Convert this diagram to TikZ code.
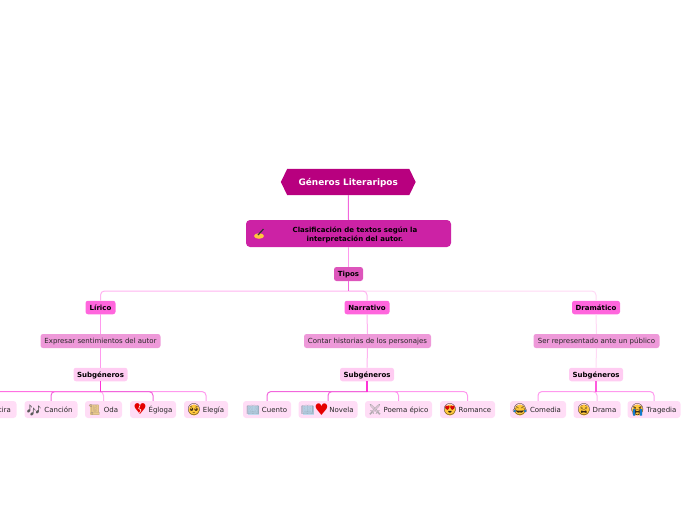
\documentclass[tikz,border=0pt]{standalone}
\usepackage{fontspec}
\usetikzlibrary{backgrounds}
\setmainfont{DejaVu Sans}
\newfontfamily\emo{Noto Emoji}
\definecolor{rootc}{HTML}{B8007F}
\definecolor{claseC}{HTML}{CC22A5}
\definecolor{tiposC}{HTML}{DD55BB}
\definecolor{tipoC}{HTML}{FF66DD}
\definecolor{descC}{HTML}{EE99D9}
\definecolor{subC}{HTML}{FFCCF2}
\definecolor{leafC}{HTML}{FFDDF6}
\definecolor{lineA}{HTML}{F266DC}
\definecolor{lineB}{HTML}{FF99EE}
\definecolor{lineC}{HTML}{FFB3F0}
\definecolor{lineD}{HTML}{FFD9F5}
\definecolor{lineE}{HTML}{FF33D6}
\definecolor{bookC}{HTML}{BFD9EE}
\definecolor{faceC}{HTML}{FFC83D}
\definecolor{scrollC}{HTML}{EBCB8B}
\tikzset{
  x=1pt,y=-1pt,
  box/.style={rounded corners=2.5pt,inner sep=0pt,font=\fontsize{7}{9}\selectfont,text=black!85,text height=6.5pt,text depth=1.5pt},
  rootbox/.style={inner sep=0pt,minimum width=134.5pt,minimum height=26pt,text=white,font=\fontsize{8.9}{11}\selectfont\bfseries,text height=7.5pt,text depth=1.5pt},
  clasebox/.style={rounded corners=4pt,inner sep=0pt,fill=claseC,font=\fontsize{7}{9}\selectfont\bfseries,text=black,align=center,minimum width=205pt,minimum height=27pt},
  tiposbox/.style={box,fill=tiposC,font=\fontsize{7}{9}\selectfont\bfseries,text=black,minimum width=29pt,minimum height=14pt},
  tipobox/.style={box,fill=tipoC,font=\fontsize{7}{9}\selectfont\bfseries,text=black,minimum height=13.5pt},
  descbox/.style={box,fill=descC,minimum height=14pt},
  subbox/.style={box,fill=subC,font=\fontsize{7}{9}\selectfont\bfseries,text=black,minimum width=54pt,minimum height=13.5pt},
  leafbox/.style={box,fill=leafC,rounded corners=3pt,minimum height=17pt},
  conn/.style={line width=1pt,rounded corners=4pt},
  ico/.style={inner sep=0pt,font=\fontsize{10.5}{10.5}\selectfont\emo},
  hrt/.style={inner sep=0pt,text=red!90!black,font=\fontsize{15}{15}\selectfont},
  facefeat/.style={inner sep=0pt,text=black!75!brown,font=\fontsize{11.5}{11.5}\selectfont\emo},
}
\newcommand{\elbow}[3]{\draw[conn,#1] (#2) -- (#3|-#2) -- (#3);}
\newcommand{\iface}[2]{\fill[faceC] (#1) circle (5.6pt); \node[facefeat] at (#1) {#2};}
\begin{document}
\begin{tikzpicture}
\useasboundingbox (0,0) rectangle (696,520);
\clip (0,0) rectangle (696,520);
% buses
\coordinate (bus0) at (348.5,291);
\coordinate (busL) at (100.5,391.5);
\coordinate (busN) at (367,391.5);
\coordinate (busD) at (596,391.5);
% nodes
\node[rootbox] (root) at (348.25,182) {Géneros Literaripos};
\begin{scope}[on background layer]
\fill[rootc] (root.west) -- ([xshift=6.5pt]root.north west) -- ([xshift=-6.5pt]root.north east) -- (root.east) -- ([xshift=-6.5pt]root.south east) -- ([xshift=6.5pt]root.south west) -- cycle;
\end{scope}
\node[clasebox] (clase) at (348.5,233.5) {\hspace*{13pt}\rule{0pt}{8.5pt}Clasificación de textos según la\\\hspace*{13pt}interpretación del autor.};
\node[tiposbox] (tipos) at (348.5,274) {Tipos};
\node[tipobox,minimum width=30pt] (lirico) at (100.5,307.5) {Lírico};
\node[tipobox,minimum width=45pt] (narr) at (367,307.5) {Narrativo};
\node[tipobox,minimum width=48pt] (dram) at (596,307.5) {Dramático};
\node[descbox,minimum width=120pt] (d1) at (100.5,341) {Expresar sentimientos del autor};
\node[descbox,minimum width=127pt] (d2) at (367.5,341) {Contar historias de los personajes};
\node[descbox,minimum width=126pt] (d3) at (596.5,341) {Ser representado ante un público};
\node[subbox] (s1) at (100.5,374.5) {Subgéneros};
\node[subbox] (s2) at (367,374.5) {Subgéneros};
\node[subbox] (s3) at (596,374.5) {Subgéneros};
% leaves
\node[leafbox,minimum width=47pt] (sat) at (-7,409.5) {\hspace*{15pt}Sátira};
\node[leafbox,minimum width=53pt] (can) at (51,409.5) {\hspace*{15pt}Canción};
\node[leafbox,minimum width=37pt] (oda) at (103.5,409.5) {\hspace*{15pt}Oda};
\node[leafbox,minimum width=46pt] (egl) at (153,409.5) {\hspace*{15pt}Égloga};
\node[leafbox,minimum width=44pt] (ele) at (206,409.5) {\hspace*{15pt}Elegía};
\node[leafbox,minimum width=48pt] (cue) at (267,409.5) {\hspace*{15pt}Cuento};
\node[leafbox,minimum width=59pt] (nov) at (328,409.5) {\hspace*{27pt}Novela};
\node[leafbox,minimum width=67pt] (poe) at (398.5,409.5) {\hspace*{15pt}Poema épico};
\node[leafbox,minimum width=55pt] (rom) at (467.5,409.5) {\hspace*{15pt}Romance};
\node[leafbox,minimum width=56pt] (com) at (538,409.5) {\hspace*{15pt}Comedia};
\node[leafbox,minimum width=47pt] (dra) at (597,409.5) {\hspace*{15pt}Drama};
\node[leafbox,minimum width=53pt] (tra) at (654,409.5) {\hspace*{15pt}Tragedia};
% connectors
\draw[line width=1pt,lineA] (root.south) -- (clase.north);
\draw[line width=1pt,lineB] (clase.south) -- (tipos.north);
\elbow{lineD}{bus0}{dram.north}
\elbow{lineC}{bus0}{narr.north}
\elbow{lineC}{bus0}{lirico.north}
\draw[line width=1pt,lineA] (tipos.south) -- (bus0);
\foreach \a/\b/\c in {lirico/d1/lineB,d1/s1/lineB,narr/d2/lineC,d2/s2/lineC,dram/d3/lineD,d3/s3/lineD}
  \draw[line width=1pt,\c] (\a.south) -- (\b.north);
\elbow{lineB}{busL}{ele.north}
\elbow{lineC}{busL}{oda.north}
\elbow{lineA}{busL}{egl.north}
\elbow{lineA}{busL}{can.north}
\elbow{lineE!70!white}{busL}{sat.north}
\elbow{lineB}{busN}{rom.north}
\elbow{lineB}{busN}{poe.north}
\elbow{lineA}{busN}{nov.north}
\elbow{lineA}{busN}{cue.north}
\elbow{lineB}{busD}{com.north}
\elbow{lineC}{busD}{dra.north}
\elbow{lineB}{busD}{tra.north}
\draw[line width=1.2pt,lineE] (s1.south) -- (busL);
\draw[line width=1.2pt,lineE] (s2.south) -- (busN);
\draw[line width=1.2pt,lineE!70!lineC] (s3.south) -- (busD);
% icons
\fill[faceC] (259,236) ellipse (5pt and 2.8pt);
\draw[black!80,line width=1.2pt] (258,235) -- (263.5,229);
\node[ico,text=black!65,font=\fontsize{12}{12}\selectfont\emo\bfseries] at (34,410) {\char"1F3B6};
\fill[scrollC] (90,405) rectangle (99,415);
\node[ico,text=brown!70!black!60] at (94.5,410) {\char"1F4DC};
\node[hrt] at (140,409.5) {♥};
\draw[white,line width=.6pt] (140,405.5) -- (138.7,408.5) -- (141,410) -- (139.5,413);
\fill[bookC] (247.5,405.5) rectangle (258.5,414.5);
\node[ico,text=black!25!bookC] at (253,410) {\char"1F4D6};
\fill[bookC] (302.5,405.5) rectangle (313.5,414.5);
\node[ico,text=black!25!bookC] at (307.5,410) {\char"1F4D6};
\node[hrt,font=\fontsize{16}{16}\selectfont] at (321.5,409.5) {♥};
\node[ico,text=black!40] at (375,410) {\char"2694};
\iface{194,410}{\char"1F97A}
\iface{450,410}{\char"1F60D}
\node[hrt,font=\fontsize{6}{6}\selectfont] at (447.5,408.5) {♥};
\node[hrt,font=\fontsize{6}{6}\selectfont] at (452.5,408.5) {♥};
\iface{520,410}{\char"1F602}
\fill[cyan!60!blue] (514.8,411) circle (1.3pt) (525.2,411) circle (1.3pt);
\iface{584,410}{\char"1F62B}
\iface{637.5,410}{\char"1F62D}
\fill[cyan!60!blue] (633,409) rectangle (635,415.5) (640,409) rectangle (642,415.5);
\end{tikzpicture}
\end{document}
